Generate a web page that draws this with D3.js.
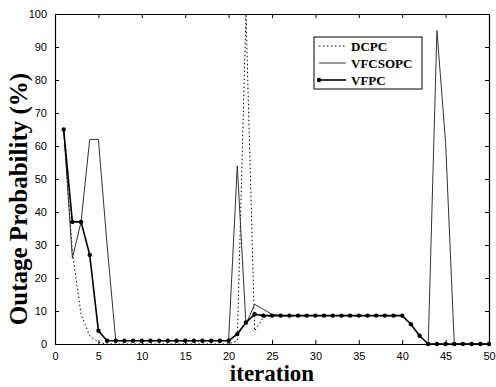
<!DOCTYPE html>
<html>
<head>
<meta charset="utf-8">
<script src="https://cdn.jsdelivr.net/npm/d3@7"></script>
<style>
  body { margin: 0; background: #fff; }
  svg { display: block; }
</style>
</head>
<body>
<svg width="496" height="387"></svg>
<script>
const iterations = d3.range(1, 51)

const dcpc = [65, 28, 9, 2.5, 0.5,
    0, 0, 0, 0, 0, 0, 0, 0, 0, 0, 0, 0, 0, 0, 0,
    1, 100, 4, 8,
    8.6, 8.6, 8.6, 8.6, 8.6, 8.6, 8.6, 8.6, 8.6, 8.6, 8.6, 8.6, 8.6, 8.6, 8.6, 8.6,
    6, 2.5,
    0, 0, 0, 0, 0, 0, 0, 0]

const vfcsopc = [65, 26, 37, 62, 62, 30, 1,
    1, 1, 1, 1, 1, 1, 1, 1, 1, 1, 1, 1, 1,
    54, 6, 12, 10.5, 9,
    8.6, 8.6, 8.6, 8.6, 8.6, 8.6, 8.6, 8.6, 8.6, 8.6, 8.6, 8.6, 8.6, 8.6, 8.6,
    6, 2.5, 0, 95, 61,
    0, 0, 0, 0, 0]

const vfpc = [65, 37, 37, 27, 4,
    1, 1, 1, 1, 1, 1, 1, 1, 1, 1, 1, 1, 1, 1, 1,
    3, 6.5, 9,
    8.6, 8.6, 8.6, 8.6, 8.6, 8.6, 8.6, 8.6, 8.6, 8.6, 8.6, 8.6, 8.6, 8.6, 8.6, 8.6, 8.6,
    6, 2.5,
    0, 0, 0, 0, 0, 0, 0, 0]

const xTicks = [0, 5, 10, 15, 20, 25, 30, 35, 40, 45, 50]
const yTicks = [0, 10, 20, 30, 40, 50, 60, 70, 80, 90, 100]
const legendNames = ['DCPC', 'VFCSOPC', 'VFPC']

const svg = d3.select('svg')
const plotLeft = 55, plotRight = 489, plotTop = 14, plotBottom = 344

const x = d3.scaleLinear().domain([0, 50]).range([plotLeft, plotRight])
const y = d3.scaleLinear().domain([0, 100]).range([plotBottom, plotTop])

const tickFont = '"Liberation Sans", Arial, sans-serif'
const serif = '"Liberation Serif", "Times New Roman", serif'

// axes, matlab style: ticks pointing inward on all four sides
const bottomAxis = d3.axisBottom(x).tickValues(xTicks).tickSizeInner(-4).tickSizeOuter(0).tickPadding(8)
const topAxis = d3.axisTop(x).tickValues(xTicks).tickSizeInner(-4).tickSizeOuter(0).tickFormat('')
const leftAxis = d3.axisLeft(y).tickValues(yTicks).tickSizeInner(-4).tickSizeOuter(0).tickPadding(8)
const rightAxis = d3.axisRight(y).tickValues(yTicks).tickSizeInner(-4).tickSizeOuter(0).tickFormat('')

const gb = svg.append('g').attr('transform', `translate(0,${plotBottom})`).call(bottomAxis)
const gt = svg.append('g').attr('transform', `translate(0,${plotTop})`).call(topAxis)
const gl = svg.append('g').attr('transform', `translate(${plotLeft},0)`).call(leftAxis)
const gr = svg.append('g').attr('transform', `translate(${plotRight},0)`).call(rightAxis)

;[gb, gt, gl, gr].forEach(g => {
    g.selectAll('path').attr('stroke', '#000').attr('stroke-width', 1.2)
    g.selectAll('line').attr('stroke', '#000')
    g.selectAll('text').attr('font-family', tickFont).attr('font-size', 11).attr('fill', '#000')
})

// series
const line = d3.line()
    .x((d, i) => x(iterations[i]))
    .y(d => y(d))

svg.append('path')
    .datum(dcpc)
    .attr('d', line)
    .attr('fill', 'none')
    .attr('stroke', '#000')
    .attr('stroke-width', 1)
    .attr('stroke-dasharray', '1.5,2.5')

svg.append('path')
    .datum(vfcsopc)
    .attr('d', line)
    .attr('fill', 'none')
    .attr('stroke', '#333')
    .attr('stroke-width', 1)

svg.append('path')
    .datum(vfpc)
    .attr('d', line)
    .attr('fill', 'none')
    .attr('stroke', '#000')
    .attr('stroke-width', 1.6)

svg.append('g').selectAll('circle')
    .data(vfpc)
    .join('circle')
    .attr('cx', (d, i) => x(iterations[i]))
    .attr('cy', d => y(d))
    .attr('r', 2.2)
    .attr('fill', '#000')

// legend
const legend = svg.append('g').attr('transform', 'translate(314,37)')
legend.append('rect')
    .attr('width', 108)
    .attr('height', 52)
    .attr('fill', '#fff')
    .attr('stroke', '#000')
    .attr('stroke-width', 1)

legendNames.forEach((name, i) => {
    const ly = 9 + i * 17
    const l = legend.append('line')
        .attr('x1', 5).attr('x2', 32)
        .attr('y1', ly).attr('y2', ly)
        .attr('stroke', '#000')
    if (i === 0) l.attr('stroke-dasharray', '1.5,2.5')
    if (i === 1) l.attr('stroke', '#333')
    if (i === 2) {
        l.attr('stroke-width', 1.6)
        legend.append('circle').attr('cx', 5).attr('cy', ly).attr('r', 2.2).attr('fill', '#000')
    }
    legend.append('text')
        .attr('x', 37)
        .attr('y', ly + 4.5)
        .attr('font-family', serif)
        .attr('font-weight', 'bold')
        .attr('font-size', 13)
        .text(name)
})

// axis titles
svg.append('text')
    .attr('x', (plotLeft + plotRight) / 2)
    .attr('y', 381)
    .attr('text-anchor', 'middle')
    .attr('font-family', serif)
    .attr('font-weight', 'bold')
    .attr('font-size', 23)
    .text('iteration')

svg.append('text')
    .attr('transform', 'translate(27,199) rotate(-90)')
    .attr('text-anchor', 'middle')
    .attr('font-family', serif)
    .attr('font-weight', 'bold')
    .attr('font-size', 25)
    .text('Outage Probability (%)')
</script>
</body>
</html>
